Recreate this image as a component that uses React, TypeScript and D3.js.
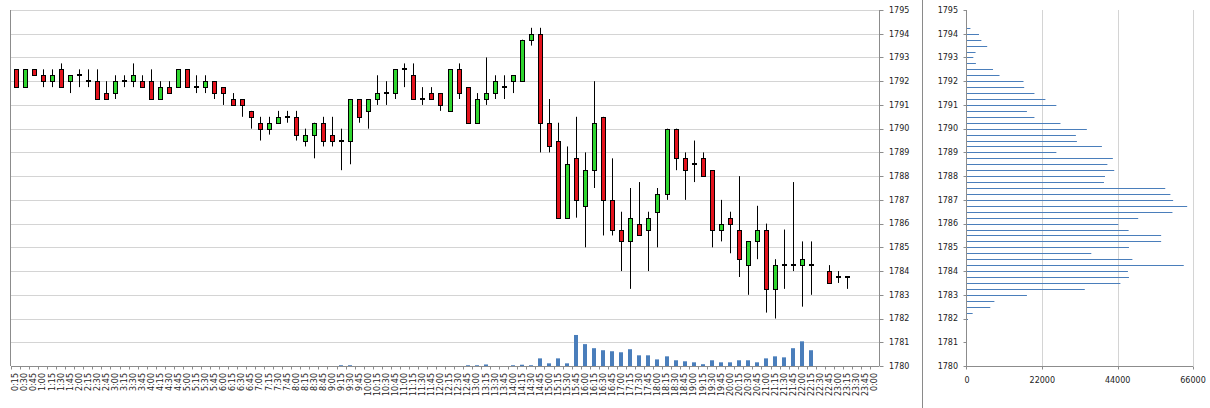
import * as d3 from "d3";

const times = [
  "0:15", "0:30", "0:45", "1:00", "1:15", "1:30", "1:45", "2:00", "2:15", "2:30", "2:45", "3:00",
  "3:15", "3:30", "3:45", "4:00", "4:15", "4:30", "4:45", "5:00", "5:15", "5:30", "5:45", "6:00",
  "6:15", "6:30", "6:45", "7:00", "7:15", "7:30", "7:45", "8:00", "8:15", "8:30", "8:45", "9:00",
  "9:15", "9:30", "9:45", "10:00", "10:15", "10:30", "10:45", "11:00", "11:15", "11:30", "11:45", "12:00",
  "12:15", "12:30", "12:45", "13:00", "13:15", "13:30", "13:45", "14:00", "14:15", "14:30", "14:45", "15:00",
  "15:15", "15:30", "15:45", "16:00", "16:15", "16:30", "16:45", "17:00", "17:15", "17:30", "17:45", "18:00",
  "18:15", "18:30", "18:45", "19:00", "19:15", "19:30", "19:45", "20:00", "20:15", "20:30", "20:45", "21:00",
  "21:15", "21:30", "21:45", "22:00", "22:15", "22:30", "22:45", "23:00", "23:15", "23:30", "23:45", "0:00",
];

const open: (number | null)[] = [
  1792.5, 1791.75, 1792.5, 1792.25, 1792, 1792.5, 1792, 1792.25, 1792, 1792,
  1791.5, 1791.5, 1792, 1792, 1792, 1792, 1791.25, 1791.75, 1791.75, 1792.5,
  1791.75, 1791.75, 1792, 1791.75, 1791.25, 1791.25, 1790.75, 1790.25, 1790, 1790.25,
  1790.5, 1790.5, 1789.5, 1789.75, 1790.25, 1789.75, 1789.5, 1789.5, 1791.25, 1790.75,
  1791.25, 1791.5, 1791.5, 1792.5, 1792.25, 1791.25, 1791.5, 1791.5, 1790.75, 1792.5,
  1791.75, 1790.25, 1791.25, 1791.5, 1791.75, 1792, 1792, 1793.75, 1794, 1790.25,
  1789.5, 1786.25, 1788.75, 1786.75, 1788.25, 1790.5, 1787, 1785.75, 1785.25, 1786,
  1785.75, 1786.5, 1787.25, 1790, 1788.75, 1788.5, 1788.75, 1788.25, 1785.75, 1786.25,
  1785.75, 1784.25, 1785.25, 1785.75, 1783.25, 1784.25, 1784.25, 1784.25, 1784.25, null,
  1784, 1783.75, 1783.75, null, null, null,
];

const high: (number | null)[] = [
  1792.5, 1792.5, 1792.5, 1792.5, 1792.5, 1792.75, 1792.25, 1792.5, 1792.5, 1792.5,
  1792, 1792.25, 1792.25, 1792.75, 1792.25, 1792.5, 1792, 1792, 1792.5, 1792.5,
  1792.25, 1792.25, 1792, 1791.75, 1791.5, 1791.25, 1790.75, 1790.5, 1790.5, 1790.75,
  1790.75, 1790.75, 1790, 1790.25, 1790.5, 1790.5, 1790, 1791.25, 1791.25, 1791.25,
  1792.25, 1792, 1792.5, 1792.75, 1792.75, 1791.75, 1791.75, 1791.5, 1792.5, 1792.75,
  1791.75, 1791.5, 1793, 1792.25, 1792.25, 1792.25, 1793.75, 1794.25, 1794.25, 1791.25,
  1790.25, 1789.25, 1790.5, 1789, 1792, 1790.5, 1788.75, 1786.5, 1787.5, 1787.75,
  1786.5, 1787.5, 1790, 1790, 1789, 1789.5, 1789, 1788.25, 1787, 1786.5,
  1788, 1785.25, 1786.75, 1786, 1784.5, 1785.75, 1787.75, 1785.25, 1785.25, null,
  1784.25, 1784, 1783.75, null, null, null,
];

const low: (number | null)[] = [
  1791.75, 1791.75, 1792.25, 1791.75, 1791.75, 1791.75, 1791.5, 1791.75, 1791.75, 1791.25,
  1791.25, 1791.25, 1791.75, 1791.75, 1791.75, 1791.25, 1791.25, 1791.5, 1791.75, 1791.75,
  1791.5, 1791.5, 1791.25, 1791, 1791, 1790.5, 1790, 1789.5, 1789.75, 1790.25,
  1790.25, 1789.5, 1789.25, 1788.75, 1789.25, 1789.25, 1788.25, 1788.5, 1790.25, 1790,
  1791, 1791, 1791.25, 1791.75, 1791.25, 1791, 1791.25, 1790.75, 1790.75, 1791.25,
  1790.25, 1790.25, 1791, 1791.25, 1791.25, 1791.5, 1792, 1793.5, 1789, 1789,
  1786.25, 1786.25, 1786.25, 1785, 1787.5, 1785.5, 1785.5, 1784, 1783.25, 1785.5,
  1784, 1785, 1787, 1788.25, 1787, 1787.75, 1788, 1785, 1785.25, 1784.75,
  1783.75, 1783, 1784.5, 1782.25, 1782, 1783.25, 1784, 1782.5, 1783, null,
  1783.5, 1783.5, 1783.25, null, null, null,
];

const close: (number | null)[] = [
  1791.75, 1792.5, 1792.25, 1792, 1792.25, 1791.75, 1792.25, 1792.25, 1792, 1791.25,
  1791.25, 1792, 1792, 1792.25, 1791.75, 1791.25, 1791.75, 1791.5, 1792.5, 1791.75,
  1791.75, 1792, 1791.5, 1791.5, 1791, 1791, 1790.5, 1790, 1790.25, 1790.5,
  1790.5, 1789.75, 1789.75, 1790.25, 1789.5, 1789.5, 1789.5, 1791.25, 1790.5, 1791.25,
  1791.5, 1791.5, 1792.5, 1792.5, 1791.25, 1791.25, 1791.25, 1791, 1792.5, 1791.5,
  1790.25, 1791.25, 1791.5, 1792, 1791.75, 1792.25, 1793.75, 1794, 1790.25, 1789.25,
  1786.25, 1788.5, 1787, 1788.25, 1790.25, 1787, 1785.75, 1785.25, 1786.25, 1785.5,
  1786.25, 1787.25, 1790, 1788.75, 1788.25, 1788.5, 1788, 1785.75, 1786, 1786,
  1784.5, 1785.25, 1785.75, 1783.25, 1784.25, 1784.25, 1784.25, 1784.5, 1784.25, null,
  1783.5, 1783.75, 1783.75, null, null, null,
];

const volume = [
  0, 0, 0, 0, 0, 0, 0, 0, 0, 0, 0, 0, 0, 0, 0, 0, 0, 0, 0, 0, 0, 0, 0, 0,
  0, 0, 0, 0, 0, 0, 0, 0, 0, 0, 0, 0, 3000, 3000, 0, 0, 0, 0, 0, 0, 0, 0, 0, 0,
  0, 0, 3000, 3000, 6000, 0, 0, 3000, 5000, 3000, 30000, 10500, 30000, 10500, 122000, 86000, 70000, 62000, 58000, 54000, 66000, 42000, 42000, 26000,
  38000, 22500, 18500, 14500, 7000, 22500, 14500, 14500, 22500, 22500, 14500, 30000, 38000, 34000, 70000, 97000, 62000, 0, 0, 0, 0, 0, 0, 0,
];

const priceTicks = [1780, 1781, 1782, 1783, 1784, 1785, 1786, 1787, 1788, 1789, 1790, 1791, 1792, 1793, 1794, 1795];

const profilePrice = [
  1794.25, 1794, 1793.75, 1793.5, 1793.25, 1793, 1792.75, 1792.5, 1792.25, 1792,
  1791.75, 1791.5, 1791.25, 1791, 1790.75, 1790.5, 1790.25, 1790, 1789.75, 1789.5,
  1789.25, 1789, 1788.75, 1788.5, 1788.25, 1788, 1787.75, 1787.5, 1787.25, 1787,
  1786.75, 1786.5, 1786.25, 1786, 1785.75, 1785.5, 1785.25, 1785, 1784.75, 1784.5,
  1784.25, 1784, 1783.75, 1783.5, 1783.25, 1783, 1782.75, 1782.5, 1782.25, 1782,
];

const profileVolume = [
  1000, 3500, 4200, 5900, 2500, 1850, 2600, 7600, 9500, 16500,
  16700, 19700, 22900, 26100, 17500, 19700, 27300, 35000, 31800, 32100,
  39400, 26100, 42600, 41000, 43000, 40300, 40000, 57900, 59400, 60200,
  64300, 60000, 50000, 44200, 47200, 56700, 56700, 47300, 36300, 48300,
  63300, 47000, 47300, 44800, 34400, 17500, 8000, 6800, 1650, 300,
];

const profileTicks = [0, 22000, 44000, 66000];

const W = 1210;
const H = 408;
const FONT = "DejaVu Sans";
const GRID = "#d4d4d4";
const AXIS = "#8c8c8c";
const UP = "#2fd62f";
const DOWN = "#e3121c";
const BLUE = "#4a7ebb";

const px = (v: number) => Math.round(v) + 0.5;

export default function App() {
  const plotL = 11;
  const plotR = 879;
  const plotT = 10;
  const plotB = 366;

  const x = d3.scaleBand<string>().domain(times).range([plotL, plotR]).padding(0);
  const y = d3.scaleLinear().domain([1780, 1795]).range([plotB, plotT]);
  const yVol = d3.scaleLinear().domain([0, 1400000]).range([plotB, plotT]);

  const pL = 967;
  const pR = 1193;
  const xp = d3.scaleLinear().domain([0, 66000]).range([pL, pR]);

  const bw = x.bandwidth();

  return (
    <svg
      width={W}
      height={H}
      style={{ position: "absolute", left: 0, top: 0, background: "#fff" }}
      fontFamily={FONT}
    >
      <rect width={W} height={H} fill="#fff" />

      {/* price grid */}
      {priceTicks.map((t) => (
        <line key={"g" + t} x1={plotL} x2={plotR} y1={px(y(t))} y2={px(y(t))} stroke={GRID} />
      ))}

      {/* volume bars */}
      {volume.map((v, i) =>
        v > 0 ? (
          <rect
            key={"v" + i}
            x={Math.round(x(times[i])! + bw / 2 - 2)}
            width={4}
            y={yVol(v)}
            height={plotB - yVol(v)}
            fill={BLUE}
          />
        ) : null
      )}

      {/* candles */}
      {times.map((t, i) => {
        const o = open[i];
        const h = high[i];
        const l = low[i];
        const c = close[i];
        if (o == null || h == null || l == null || c == null) return null;
        const cx = Math.round(x(t)! + bw / 2);
        const top = y(Math.max(o, c));
        const bot = y(Math.min(o, c));
        return (
          <g key={"c" + i}>
            <line x1={cx + 0.5} x2={cx + 0.5} y1={y(h)} y2={y(l)} stroke="#000" strokeWidth={1} />
            {bot - top < 1 ? (
              <line x1={cx - 2} x2={cx + 3} y1={Math.round(top)} y2={Math.round(top)} stroke="#000" strokeWidth={2} />
            ) : (
              <rect
                x={cx - 1.5}
                width={4}
                y={Math.round(top) + 0.5}
                height={Math.round(bot) - Math.round(top)}
                fill={c >= o ? UP : DOWN}
                stroke="#000"
                strokeWidth={1}
              />
            )}
          </g>
        );
      })}

      {/* left border */}
      <line x1={px(plotL) - 1} x2={px(plotL) - 1} y1={plotT} y2={plotB} stroke={AXIS} />

      {/* right price axis */}
      <line x1={px(plotR)} x2={px(plotR)} y1={plotT} y2={plotB} stroke={AXIS} />
      {priceTicks.map((t) => (
        <g key={"ra" + t}>
          <line x1={px(plotR)} x2={px(plotR) + 4} y1={px(y(t))} y2={px(y(t))} stroke={AXIS} />
          <text x={889} y={y(t)} dy="0.35em" fontSize={8} fill="#222">
            {t}
          </text>
        </g>
      ))}

      {/* time axis */}
      <line x1={plotL} x2={plotR} y1={px(plotB)} y2={px(plotB)} stroke={AXIS} />
      {times.map((t, i) => (
        <line
          key={"xt" + i}
          x1={px(x(t)!)}
          x2={px(x(t)!)}
          y1={px(plotB)}
          y2={px(plotB) + 3}
          stroke={AXIS}
        />
      ))}
      {times.map((t) => (
        <text
          key={"xl" + t}
          transform={`translate(${x(t)! + bw / 2},373) rotate(-90)`}
          textAnchor="end"
          dy="0.35em"
          fontSize={8}
          fill="#222"
        >
          {t}
        </text>
      ))}

      {/* separator */}
      <line x1={922.5} x2={922.5} y1={0} y2={H} stroke="#8a8a8a" />

      {/* profile chart */}
      {profileTicks.slice(1).map((t) => (
        <line key={"pg" + t} x1={px(xp(t))} x2={px(xp(t))} y1={plotT} y2={plotB} stroke={GRID} />
      ))}
      {profilePrice.map((p, i) => (
        <line
          key={"pb" + i}
          x1={pL}
          x2={xp(profileVolume[i])}
          y1={px(y(p))}
          y2={px(y(p))}
          stroke={BLUE}
          strokeWidth={1}
        />
      ))}
      <line x1={px(pL) - 1} x2={px(pL) - 1} y1={plotT} y2={plotB} stroke={AXIS} />
      <line x1={pL - 1} x2={pR} y1={px(plotB)} y2={px(plotB)} stroke={AXIS} />
      {priceTicks.map((t) => (
        <g key={"pa" + t}>
          <line x1={px(pL) - 4} x2={px(pL) - 1} y1={px(y(t))} y2={px(y(t))} stroke={AXIS} />
          <text x={958} y={y(t)} dy="0.35em" textAnchor="end" fontSize={8} fill="#222">
            {t}
          </text>
        </g>
      ))}
      {profileTicks.map((t) => (
        <g key={"px" + t}>
          <line x1={px(xp(t)) - (t === 0 ? 1 : 0)} x2={px(xp(t)) - (t === 0 ? 1 : 0)} y1={px(plotB)} y2={px(plotB) + 3} stroke={AXIS} />
          <text x={xp(t)} y={380} dy="0.35em" textAnchor="middle" fontSize={8} fill="#222">
            {t}
          </text>
        </g>
      ))}
    </svg>
  );
}
